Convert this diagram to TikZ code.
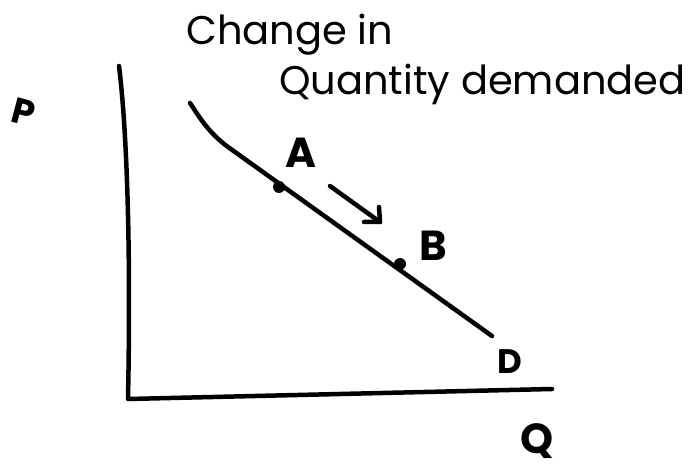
\documentclass[tikz,border=0pt]{standalone}
\usepackage{fontspec}
\setmainfont{Poppins}
\tikzset{
  ink/.style={line width=4.5pt, line cap=round, line join=round},
  lbl/.style={inner sep=0pt, font=\bfseries\fontsize{42}{42}\selectfont},
  big/.style={inner sep=0pt, anchor=base west, font=\fontsize{40}{40}\selectfont},
  dot/.style={circle, fill=black, inner sep=0pt, minimum size=12pt}
}
\begin{document}
\begin{tikzpicture}[x=1pt, y=-1pt]
\useasboundingbox (0,0) rectangle (689,470);
% axes
\coordinate (ytop) at (119,66);
\coordinate (origin) at (128,399);
\coordinate (xend) at (552,389);
\draw[ink] (ytop) .. controls (127,130) and (131,250) .. (origin) -- (xend);
% demand curve
\coordinate (dstart) at (190,103);
\coordinate (dend) at (492,336);
\draw[ink] (dstart) .. controls (200,118) and (208,132) .. (228,147) -- (dend);
% points
\node[dot] (A) at (279,187) {};
\node[dot] (B) at (400,264) {};
% arrow
\coordinate (a1) at (330,186);
\coordinate (a2) at (380,222);
\draw[ink] (a1) -- (a2);
\draw[ink] (364,222) -- (a2) -- (379,207);
% labels
\node[lbl] (lA) at (301,153) {A};
\node[lbl] (lB) at (433,246) {B};
\node[lbl, font=\bfseries\fontsize{34}{34}\selectfont] (lD) at (510,362) {D};
\node[lbl] (lQ) at (537,441) {Q};
\node[lbl, font=\bfseries\fontsize{36}{36}\selectfont, rotate=-15] (lP) at (24,112) {P};
\node[big] (t1) at (186,45) {Change in};
\node[big] (t2) at (279,95) {Quantity demanded};
\end{tikzpicture}
\end{document}
